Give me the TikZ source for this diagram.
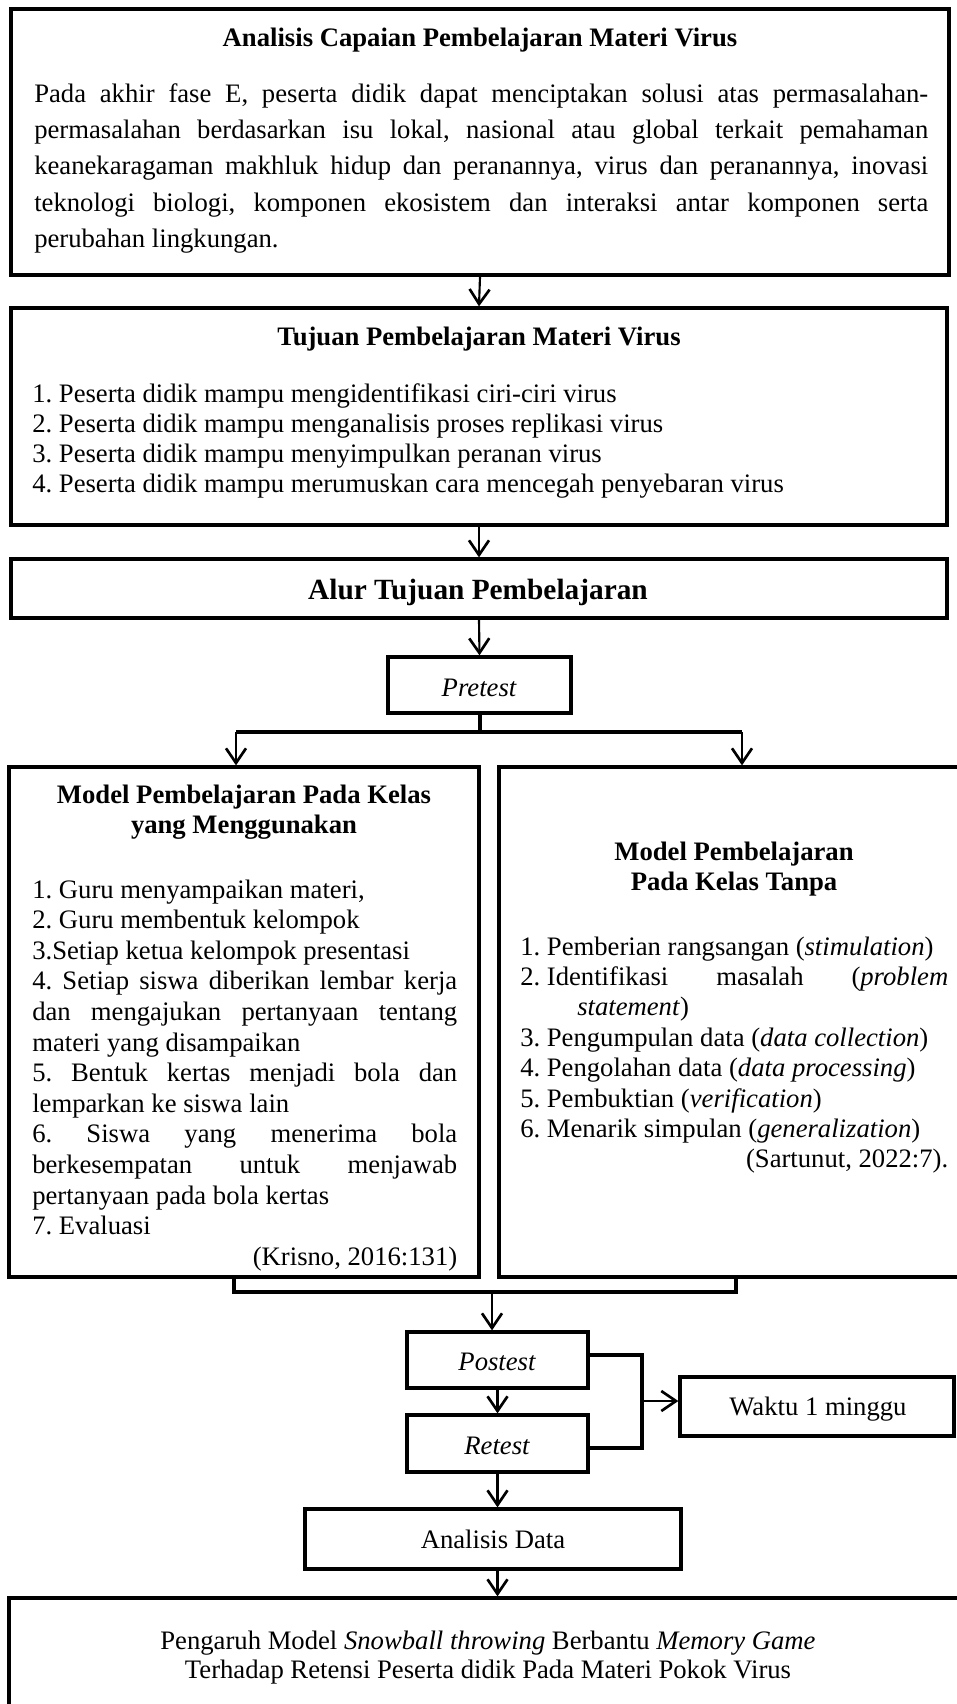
\documentclass[tikz,border=0pt]{standalone}
\usepackage{fontspec}
\setmainfont{Liberation Serif}
\usetikzlibrary{arrows.meta,fit}
\frenchspacing
\begin{document}
\begin{tikzpicture}[x=0.75pt,y=-0.75pt,
  frame/.style={draw, line width=2.5pt, inner sep=0pt},
  arr/.style={-{Straight Barb[length=11pt,width=15pt,line width=2pt]}, line width=1.6pt},
  link/.style={line width=3pt},
  txt/.style={inner sep=0pt, font=\fontsize{20}{24}\selectfont},
  hd/.style={inner sep=0pt, font=\fontsize{20}{24}\selectfont\bfseries},
  it/.style={inner sep=0pt, font=\fontsize{20}{24}\selectfont\itshape}]
\useasboundingbox (0,0) rectangle (957,1704);
\fill[white] (0,0) rectangle (957,1704);
\clip (0,0) rectangle (957,1704);
% boxes
\node[frame, fit={(11,9) (949,275)}] (b1) {};
\node[frame, fit={(11,308) (947,525)}] (b2) {};
\node[frame, fit={(11,559) (947,618)}] (b3) {};
\node[frame, fit={(388,657) (571,713)}] (pre) {};
\node[frame, fit={(9,767) (479,1277)}] (lbox) {};
\node[frame, fit={(499,767) (980,1277)}] (rbox) {};
\node[frame, fit={(407,1332) (588,1388)}] (post) {};
\node[frame, fit={(407,1415) (588,1472)}] (ret) {};
\node[frame, fit={(680,1377) (954,1436)}] (wak) {};
\node[frame, fit={(305,1509) (681,1569)}] (ana) {};
\node[frame, fit={(9,1598) (980,1740)}] (fin) {};
% texts
\node[hd, anchor=base] (t1) at (480,46) {Analisis Capaian Pembelajaran Materi Virus};
\node[inner sep=0pt, anchor=base west, text width=670.5pt, align=justify,
  font=\fontsize{20}{27.15}\selectfont] (p1) at (34,102.5)
  {Pada akhir fase E, peserta didik dapat menciptakan solusi atas permasalahan-\linebreak
   permasalahan berdasarkan isu lokal, nasional atau global terkait pemahaman\linebreak
   keanekaragaman makhluk hidup dan peranannya, virus dan peranannya, inovasi\linebreak
   teknologi biologi, komponen ekosistem dan interaksi antar komponen serta\linebreak
   perubahan lingkungan.};
\node[hd, anchor=base] (t2) at (479,345) {Tujuan Pembelajaran Materi Virus};
\node[inner sep=0pt, anchor=base west, text width=675pt, align=flush left,
  font=\fontsize{20}{22.7}\selectfont] (p2) at (32,402)
  {1. Peserta didik mampu mengidentifikasi ciri-ciri virus\\
   2. Peserta didik mampu menganalisis proses replikasi virus\\
   3. Peserta didik mampu menyimpulkan peranan virus\\
   4. Peserta didik mampu merumuskan cara mencegah penyebaran virus};
\node[inner sep=0pt, anchor=base, font=\fontsize{22}{26}\selectfont\bfseries] (t3) at (478,599) {Alur Tujuan Pembelajaran};
\node[it, anchor=base] (tpre) at (479,696) {Pretest};
\node[inner sep=0pt, anchor=base, text width=330pt, align=flush center,
  font=\fontsize{20}{22.5}\selectfont\bfseries] (tl) at (244,803)
  {Model Pembelajaran Pada Kelas\\yang Menggunakan};
\node[inner sep=0pt, anchor=base west, text width=318.75pt, align=justify,
  font=\fontsize{20}{22.95}\selectfont] (pl) at (32,898)
  {1. Guru menyampaikan materi,\par
   2. Guru membentuk kelompok\par
   3.Setiap ketua kelompok presentasi\par
   4. Setiap siswa diberikan lembar kerja\linebreak
   dan mengajukan pertanyaan tentang\linebreak
   materi yang disampaikan\par
   5. Bentuk kertas menjadi bola dan\linebreak
   lemparkan ke siswa lain\par
   6. Siswa yang menerima bola\linebreak
   berkesempatan untuk menjawab\linebreak
   pertanyaan pada bola kertas\par
   7. Evaluasi\par
   \hfill(Krisno, 2016:131)};
\node[inner sep=0pt, anchor=base, text width=321pt, align=flush center,
  font=\fontsize{20}{22.5}\selectfont\bfseries] (tr) at (734,860)
  {Model Pembelajaran\\Pada Kelas Tanpa};
\node[inner sep=0pt, anchor=base west, text width=321pt, align=justify,
  font=\fontsize{20}{22.8}\selectfont] (pr) at (520,955)
  {1. Pemberian rangsangan (\textit{stimulation})\par
   \mbox{2. Identifikasi} masalah (\textit{problem}\linebreak
   \hspace*{42.75pt}\textit{statement})\par
   3. Pengumpulan data (\textit{data collection})\par
   4. Pengolahan data (\textit{data processing})\par
   5. Pembuktian (\textit{verification})\par
   6. Menarik simpulan (\textit{generalization})\par
   \hfill(Sartunut, 2022:7).};
\node[it, anchor=base] (tpost) at (497,1370) {Postest};
\node[it, anchor=base] (tret) at (497,1454) {Retest};
\node[txt, anchor=base] (twak) at (818,1415) {Waktu 1 minggu};
\node[txt, anchor=base] (tana) at (493,1548) {Analisis Data};
\node[inner sep=0pt, anchor=base, text width=675pt, align=flush center,
  font=\fontsize{20}{21.75}\selectfont] (tfin) at (488,1649)
  {Pengaruh Model \textit{Snowball throwing} Berbantu \textit{Memory Game}\\
   Terhadap Retensi Peserta didik Pada Materi Pokok Virus};
% connectors
\draw[arr] (b1.south) -- (b2.north);
\draw[arr] (b2.south) -- (b3.north);
\draw[arr] (b3.south) -- (pre.north);
\coordinate (jl) at (236,732);
\coordinate (jr) at (742,732);
\draw[link] (pre.south) -- (pre.south |- jl);
\draw[link] (jl) -- (jr);
\draw[arr] (jl) -- (jl |- lbox.north);
\draw[arr] (jr) -- (jr |- rbox.north);
\coordinate (bl) at (234,1292);
\coordinate (br) at (736,1292);
\coordinate (bc) at (492,1292);
\draw[link] (bl |- lbox.south) -- (bl) -- (br) -- (br |- rbox.south);
\draw[arr] (bc) -- (bc |- post.north);
\draw[arr] (post.south) -- (ret.north);
\coordinate (m) at (642,1401);
\draw[link] ([yshift=3.75pt]post.east) -| (m) |- ([yshift=-3.4pt]ret.east);
\draw[arr] (m) -- (m -| wak.west);
\draw[arr] (ret.south) -- (ret.south |- ana.north);
\draw[arr] (ret.south |- ana.south) -- (ret.south |- fin.north);
\end{tikzpicture}
\end{document}
